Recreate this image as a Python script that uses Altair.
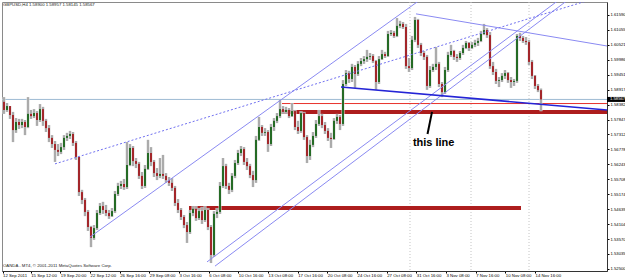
import altair as alt
import pandas as pd

# ---------------- data ----------------
first_open = 1.5848
close = [
    1.5819, 1.5833, 1.5801, 1.5747, 1.5776, 1.5765, 1.5776, 1.5758, 1.5805, 1.5797,
    1.5808, 1.5783, 1.5822, 1.5780, 1.5754, 1.5719, 1.5697, 1.5676, 1.5669, 1.5686,
    1.5719, 1.5726, 1.5733, 1.5701, 1.5651, 1.5525, 1.5497, 1.5454, 1.5400, 1.5361,
    1.5396, 1.5450, 1.5475, 1.5461, 1.5450, 1.5439, 1.5457, 1.5518, 1.5547, 1.5554,
    1.5543, 1.5622, 1.5683, 1.5636, 1.5626, 1.5583, 1.5547, 1.5608, 1.5665, 1.5633,
    1.5593, 1.5583, 1.5590, 1.5583, 1.5568, 1.5558, 1.5540, 1.5486, 1.5461, 1.5436,
    1.5407, 1.5382, 1.5450, 1.5465, 1.5432, 1.5457, 1.5425, 1.5461, 1.5400, 1.5300,
    1.5447, 1.5454, 1.5547, 1.5618, 1.5547, 1.5533, 1.5583, 1.5629, 1.5665, 1.5679,
    1.5633, 1.5618, 1.5586, 1.5568, 1.5712, 1.5758, 1.5737, 1.5740, 1.5697, 1.5758,
    1.5780, 1.5797, 1.5822, 1.5812, 1.5819, 1.5797, 1.5815, 1.5758, 1.5744, 1.5808,
    1.5722, 1.5654, 1.5694, 1.5726, 1.5769, 1.5797, 1.5765, 1.5744, 1.5719, 1.5715,
    1.5780, 1.5794, 1.5769, 1.5912, 1.5951, 1.5930, 1.5973, 1.5948, 1.5984, 1.5994,
    1.6001, 1.6009, 1.6012, 1.5994, 1.5919, 1.6001, 1.6019, 1.6012, 1.6091, 1.6095,
    1.6084, 1.6120, 1.6127, 1.6116, 1.5976, 1.5969, 1.6070, 1.6141, 1.6052, 1.6023,
    1.6009, 1.5905, 1.5962, 1.5973, 1.5984, 1.5912, 1.5883, 1.5962, 1.6016, 1.6030,
    1.6009, 1.6005, 1.6023, 1.6041, 1.6059, 1.6041, 1.6052, 1.6059, 1.6066, 1.6091,
    1.6105, 1.6087, 1.5976, 1.5955, 1.5923, 1.5926, 1.5941, 1.5951, 1.5926, 1.5919,
    1.5923, 1.6084, 1.6077, 1.6066, 1.6062, 1.5991, 1.5941, 1.5905, 1.5890, 1.58567,
]
high = [
    1.5865, 1.5844, 1.5819, 1.5812, 1.5790, 1.5787, 1.5787, 1.5783, 1.5865, 1.5819,
    1.5822, 1.5815, 1.5840, 1.5830, 1.5787, 1.5765, 1.5729, 1.5708, 1.5697, 1.5701,
    1.5729, 1.5737, 1.5744, 1.5740, 1.5708, 1.5651, 1.5533, 1.5504, 1.5461, 1.5404,
    1.5407, 1.5461, 1.5486, 1.5490, 1.5479, 1.5461, 1.5468, 1.5529, 1.5558, 1.5565,
    1.5572, 1.5704, 1.5697, 1.5690, 1.5647, 1.5633, 1.5597, 1.5622, 1.5712, 1.5686,
    1.5640, 1.5611, 1.5647, 1.5658, 1.5593, 1.5579, 1.5575, 1.5547, 1.5500, 1.5468,
    1.5443, 1.5418, 1.5461, 1.5475, 1.5475, 1.5468, 1.5472, 1.5475, 1.5468, 1.5407,
    1.5457, 1.5468, 1.5561, 1.5647, 1.5626, 1.5558, 1.5593, 1.5640, 1.5676, 1.5690,
    1.5686, 1.5647, 1.5626, 1.5601, 1.5726, 1.5794, 1.5765, 1.5754, 1.5747, 1.5769,
    1.5790, 1.5808, 1.5855, 1.5833, 1.5830, 1.5826, 1.5844, 1.5819, 1.5780, 1.5815,
    1.5812, 1.5729, 1.5712, 1.5740, 1.5783, 1.5819, 1.5805, 1.5776, 1.5754, 1.5737,
    1.5790, 1.5805, 1.5801, 1.5926, 1.5962, 1.5959, 1.5984, 1.5980, 1.5994, 1.6005,
    1.6012, 1.6034, 1.6023, 1.6019, 1.5998, 1.6012, 1.6034, 1.6027, 1.6102, 1.6105,
    1.6102, 1.6148, 1.6138, 1.6134, 1.6127, 1.6005, 1.6084, 1.6152, 1.6145, 1.6059,
    1.6030, 1.6016, 1.5976, 1.5984, 1.6044, 1.5991, 1.5919, 1.5973, 1.6027, 1.6052,
    1.6034, 1.6019, 1.6030, 1.6052, 1.6066, 1.6062, 1.6062, 1.6070, 1.6077, 1.6102,
    1.6127, 1.6112, 1.6098, 1.5991, 1.5966, 1.5937, 1.5951, 1.5962, 1.5955, 1.5937,
    1.5930, 1.6091, 1.6095, 1.6084, 1.6080, 1.6070, 1.5998, 1.5944, 1.5912, 1.58957,
]
low = [
    1.5805, 1.5812, 1.5787, 1.5704, 1.5737, 1.5751, 1.5754, 1.5729, 1.5754, 1.5787,
    1.5790, 1.5762, 1.5776, 1.5762, 1.5740, 1.5704, 1.5683, 1.5633, 1.5654, 1.5661,
    1.5676, 1.5708, 1.5715, 1.5690, 1.5640, 1.5511, 1.5482, 1.5439, 1.5386, 1.5328,
    1.5354, 1.5389, 1.5443, 1.5447, 1.5439, 1.5429, 1.5436, 1.5450, 1.5511, 1.5536,
    1.5533, 1.5536, 1.5618, 1.5618, 1.5611, 1.5572, 1.5536, 1.5540, 1.5604, 1.5618,
    1.5579, 1.5568, 1.5575, 1.5572, 1.5558, 1.5547, 1.5529, 1.5475, 1.5450, 1.5425,
    1.5396, 1.5343, 1.5375, 1.5439, 1.5422, 1.5425, 1.5411, 1.5418, 1.5389, 1.5271,
    1.5293, 1.5432, 1.5447, 1.5540, 1.5536, 1.5518, 1.5525, 1.5575, 1.5622, 1.5654,
    1.5622, 1.5604, 1.5575, 1.5543, 1.5558, 1.5708, 1.5726, 1.5726, 1.5669, 1.5690,
    1.5744, 1.5772, 1.5790, 1.5805, 1.5805, 1.5790, 1.5794, 1.5747, 1.5733, 1.5737,
    1.5712, 1.5629, 1.5640, 1.5686, 1.5719, 1.5762, 1.5754, 1.5733, 1.5708, 1.5683,
    1.5712, 1.5769, 1.5747, 1.5762, 1.5905, 1.5916, 1.5919, 1.5898, 1.5941, 1.5976,
    1.5984, 1.5991, 1.5998, 1.5987, 1.5891, 1.5912, 1.5998, 1.6005, 1.6009, 1.6084,
    1.6077, 1.6080, 1.6112, 1.6109, 1.5966, 1.5955, 1.5962, 1.6062, 1.6041, 1.6012,
    1.5998, 1.5891, 1.5898, 1.5955, 1.5962, 1.5901, 1.5865, 1.5876, 1.5955, 1.6009,
    1.5998, 1.5991, 1.5998, 1.6016, 1.6037, 1.6030, 1.6037, 1.6044, 1.6048, 1.6062,
    1.6087, 1.6077, 1.5966, 1.5944, 1.5912, 1.5901, 1.5919, 1.5930, 1.5916, 1.5898,
    1.5905, 1.5916, 1.6066, 1.6059, 1.6052, 1.5980, 1.5930, 1.5894, 1.5883, 1.58145,
]

x_tick_pos = [-0.5, 8.9, 18.77, 28.67, 38.57, 48.43, 58.33, 68.23, 78.1, 88.0,
              97.9, 107.77, 117.67, 127.57, 137.43, 147.33, 157.23, 167.1, 177.0]
x_tick_labels = ["12 Sep 2011", "15 Sep 12:00", "19 Sep 20:00", "22 Sep 12:00",
                 "26 Sep 16:00", "29 Sep 08:00", "3 Oct 16:00", "6 Oct 08:00",
                 "10 Oct 16:00", "13 Oct 08:00", "17 Oct 16:00", "20 Oct 08:00",
                 "24 Oct 16:00", "27 Oct 08:00", "31 Oct 16:00", "3 Nov 08:00",
                 "7 Nov 16:00", "10 Nov 08:00", "14 Nov 16:00"]
y_ticks = [1.61590, 1.61055, 1.60521, 1.59986, 1.59451, 1.58917, 1.58382, 1.57847,
           1.57312, 1.56778, 1.56243, 1.55708, 1.55174, 1.54639, 1.54104, 1.53570,
           1.53035, 1.52500]

# drawn objects (bar index, price)
line_names = ["tri_low", "tri_high", "dotted", "support", "chanA", "chanB",
              "bid", "red_thin", "red_thick", "red_thick2", "pointer"]
line_x1 = [112.33, 137.33, 17.0, 28.67, 67.67, 70.33, -0.667, 92.67, 92.33, 61.67, 142.67]
line_y1 = [1.5901, 1.6163, 1.5626, 1.5364, 1.5275, 1.5260, 1.58567, 1.5842, 1.5812, 1.5468, 1.5812]
line_x2 = [201.0, 201.0, 195.33, 138.67, 185.0, 188.0, 201.0, 201.0, 201.0, 172.33, 141.17]
line_y2 = [1.5819, 1.6048, 1.6213, 1.6213, 1.6213, 1.6213, 1.58567, 1.5842, 1.5812, 1.5468, 1.5733]
separators = [135.33, 155.67, 175.0]

header = "GBPUSD,H4  1.58900 1.58957 1.58145 1.58567"
footer = "OANDA - MT4, \u00a9 2001-2011 MetaQuotes Software Corp."
annot_text = "this line"
annot_x, annot_y = 136.3, 1.5701
last_price = 1.58567

# ---------------- tables ----------------
opens = [first_open] + close[:-1]
rows = []
for i, (o, c, h, l) in enumerate(zip(opens, close, high, low)):
    rows.append(dict(idx=i, open=o, close=c, high=max(h, o, c), low=min(l, o, c)))
candles = pd.DataFrame(rows)
lines = pd.DataFrame(dict(name=line_names, x1=line_x1, y1=line_y1, x2=line_x2, y2=line_y2))

FONT = "Liberation Sans"
xs = alt.Scale(domain=[-0.667, 201.0], nice=False, zero=False)
ys = alt.Scale(domain=[1.52425, 1.62055], nice=False, zero=False)
labels_js = "[" + ",".join("'" + s + "'" for s in x_tick_labels) + "]"
pos_js = "[" + ",".join(repr(v) for v in x_tick_pos) + "]"
xaxis = alt.Axis(values=x_tick_pos, labelExpr=f"{labels_js}[indexof({pos_js}, datum.value)]",
                 title=None, grid=False, labelAlign="left", labelFont=FONT, labelFontSize=4.3,
                 labelColor="#000", tickColor="#000", tickSize=2, labelPadding=0.5,
                 domainColor="#333", labelOverlap=False, labelFlush=False, labelBaseline="top")
yaxis = alt.Axis(values=y_ticks, format=".5f", orient="right", title=None, grid=False,
                 labelFont=FONT, labelFontSize=4.2, labelColor="#000", tickColor="#000",
                 tickSize=2, labelPadding=1, domainColor="#333", labelOverlap=False,
                 labelFlush=False, labelBaseline="middle", labelAlign="left")

X = alt.X("idx:Q", scale=xs, axis=xaxis)
GREEN, RED = "#256b25", "#a3262a"
col = alt.condition("datum.close >= datum.open", alt.value(GREEN), alt.value(RED))

halo = alt.Chart(candles).mark_rule(color="#dadada", strokeWidth=3).encode(
    x=X, y=alt.Y("low:Q", scale=ys, axis=yaxis), y2="high:Q")
wicks = alt.Chart(candles).mark_rule(color="#7d7d7d", strokeWidth=1).encode(
    x=X, y=alt.Y("low:Q", scale=ys, axis=yaxis), y2="high:Q")
bodies = alt.Chart(candles).mark_rule(strokeWidth=2).encode(
    x=X, y=alt.Y("open:Q", scale=ys, axis=yaxis), y2="close:Q", color=col)


def seg(names, **kw):
    d = lines[lines["name"].isin(names)]
    return alt.Chart(d).mark_rule(clip=True, **kw).encode(
        x=alt.X("x1:Q", scale=xs, axis=xaxis), x2="x2:Q",
        y=alt.Y("y1:Q", scale=ys, axis=yaxis), y2="y2:Q")


sep = alt.Chart(pd.DataFrame(dict(idx=separators))).mark_rule(
    color="#c4c4c4", strokeDash=[1, 2], strokeWidth=1).encode(x=X)

lay = [
    sep,
    seg(["bid"], color="#9dbad3", strokeWidth=1),
    seg(["red_thick", "red_thick2"], color="#ad1d1d", strokeWidth=4),
    seg(["red_thin"], color="#e8322c", strokeWidth=1),
    halo,
    wicks,
    bodies,
    seg(["support", "chanA", "chanB", "tri_high"], color="#8a8af2", strokeWidth=1),
    seg(["dotted"], color="#6f6ff0", strokeWidth=1, strokeDash=[2, 2]),
    seg(["tri_low"], color="#2424d6", strokeWidth=1.6),
    seg(["pointer"], color="#000000", strokeWidth=2),
]

annot = alt.Chart(pd.DataFrame(dict(idx=[annot_x], p=[annot_y], t=[annot_text]))).mark_text(
    align="left", baseline="middle", font=FONT, fontSize=11, fontWeight="bold", color="#000"
).encode(x=X, y=alt.Y("p:Q", scale=ys, axis=yaxis), text="t:N")

hdr = alt.Chart(pd.DataFrame(dict(t=[header]))).mark_text(
    align="left", baseline="middle", font=FONT, fontSize=4.3, color="#222"
).encode(x=alt.value(1), y=alt.value(3), text="t:N")
ftr = alt.Chart(pd.DataFrame(dict(t=[footer]))).mark_text(
    align="left", baseline="middle", font=FONT, fontSize=4.3, color="#222"
).encode(x=alt.value(1), y=alt.value(264), text="t:N")

pdf = pd.DataFrame(dict(p=[last_price], t=[f"{last_price:.5f}"]))
pbox = alt.Chart(pdf).mark_rule(color="#000", strokeWidth=5).encode(
    x=alt.value(605), x2=alt.value(623), y=alt.Y("p:Q", scale=ys, axis=yaxis))
ptxt = alt.Chart(pdf).mark_text(align="left", baseline="middle", font=FONT, fontSize=4.2,
                                color="#fff").encode(
    x=alt.value(608), y=alt.Y("p:Q", scale=ys, axis=yaxis), text="t:N")

chart = alt.layer(*lay, annot, hdr, ftr, pbox, ptxt).properties(
    width=605, height=269,
    padding={"left": 2, "top": 2, "right": 18, "bottom": 7},
    autosize="none", background="#ffffff",
).configure_view(stroke="#8a8a8a", strokeWidth=1)

chart.save("out.html", embed_options={"renderer": "svg", "actions": False})
